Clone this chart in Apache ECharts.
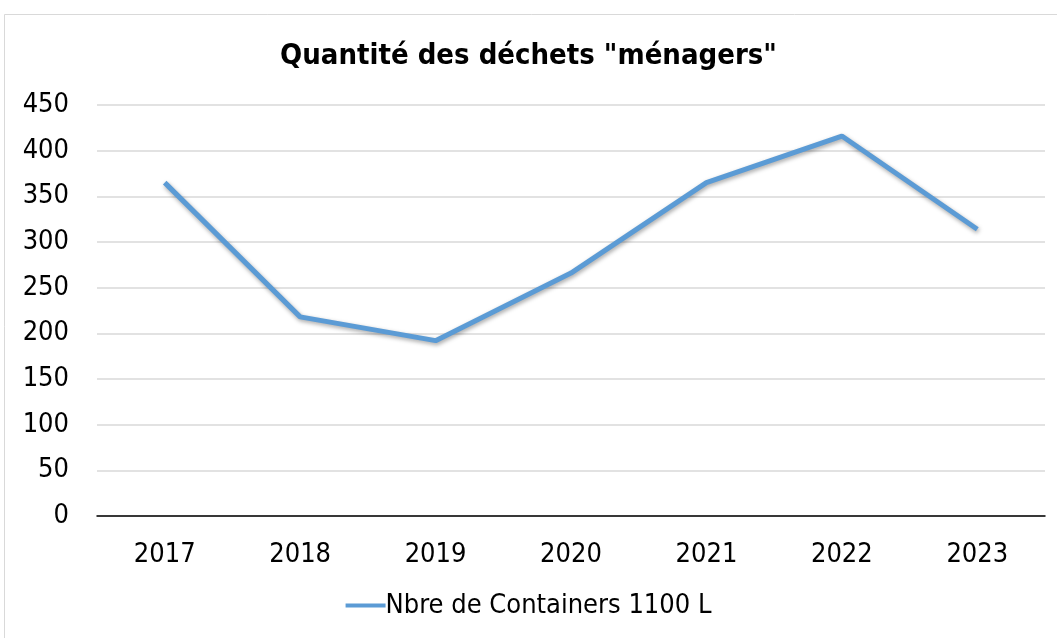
<!DOCTYPE html>
<html><head><meta charset="utf-8">
<script src="https://cdn.jsdelivr.net/npm/echarts@6/dist/echarts.min.js"></script>
<style>html,body{margin:0;padding:0;background:#fff}#c{width:1057px;height:638px}</style>
</head><body><div id="c"></div>
<script>
const categories = ['2017','2018','2019','2020','2021','2022','2023'];
const containers = [365, 218, 192, 266, 365, 416, 314];
const yTicks = [0, 50, 100, 150, 200, 250, 300, 350, 400, 450];
const titleText = 'Quantité des déchets "ménagers"';
const seriesName = 'Nbre de Containers 1100 L';
const FONT = '"Liberation Sans Narrow", "DejaVu Sans Condensed", "Open Sans", sans-serif';

const chart = echarts.init(document.getElementById('c'), null, {renderer:'canvas'});
chart.setOption({
  backgroundColor: '#fff',
  animation: false,
  graphic: [{type:'rect', shape:{x:4.5, y:14.5, width:1070, height:640}, style:{fill:'none', stroke:'#d9d9d9', lineWidth:1}}],
  title: {text: titleText, left: 'center', top: 37, textStyle:{fontFamily:FONT, fontSize:29, fontWeight:'bold', color:'#000'}},
  grid: {left: 97, right: 12, top: 105, bottom: 122},
  legend: {bottom: 14, left: 'center', data:[seriesName], icon:'rect', itemWidth:40, itemHeight:4, itemGap:0,
    textStyle:{fontFamily:FONT, fontSize:27, color:'#000', padding:[0,0,0,-5]}},
  xAxis: {type:'category', data: categories, boundaryGap: true,
    axisLine:{lineStyle:{color:'#000', width:1.5}}, axisTick:{show:false},
    axisLabel:{fontFamily:FONT, fontSize:27, color:'#000', margin:25}},
  yAxis: {type:'value', min: yTicks[0], max: yTicks[yTicks.length-1], interval: 50,
    axisLine:{show:false}, axisTick:{show:false},
    splitLine:{lineStyle:{color:'#d9d9d9', width:1.5}},
    axisLabel:{fontFamily:FONT, fontSize:27, color:'#000', margin:28}},
  series: [{name: seriesName, type:'line', data: containers, symbol:'none',
    lineStyle:{color:'#5b9bd5', width:5, shadowColor:'rgba(0,0,0,0.35)', shadowBlur:4, shadowOffsetY:2, shadowOffsetX:1},
    itemStyle:{color:'#5b9bd5'}}]
});
</script></body></html>
